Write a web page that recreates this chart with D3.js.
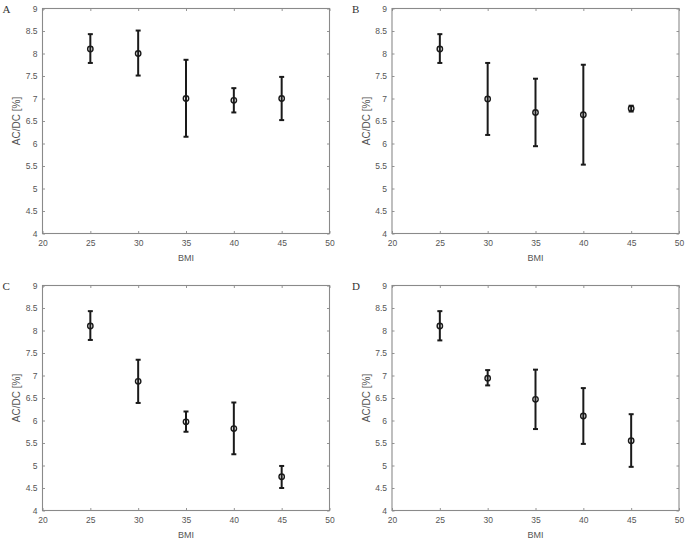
<!DOCTYPE html>
<html>
<head>
<meta charset="utf-8">
<script src="https://cdn.jsdelivr.net/npm/d3@7"></script>
<style>
    body { margin: 0; background: #ffffff; }
    svg { display: block; }
</style>
</head>
<body>
<svg id="chart" width="685" height="540"></svg>
<script>
// BMI groups shared by every panel
const bmi = [25, 30, 35, 40, 45];

const xTicks = [20, 25, 30, 35, 40, 45, 50];
const yTicks = [4, 4.5, 5, 5.5, 6, 6.5, 7, 7.5, 8, 8.5, 9];

const panelNames = ['A', 'B', 'C', 'D'];

// mean AC/DC [%] per BMI group
const meanA = [8.10, 8.00, 7.00, 6.96, 7.00];
const meanB = [8.10, 6.99, 6.69, 6.64, 6.78];
const meanC = [8.10, 6.87, 5.97, 5.82, 4.75];
const meanD = [8.10, 6.94, 6.47, 6.10, 5.55];

// error bar ends
const lowA = [7.79, 7.51, 6.15, 6.69, 6.52];
const highA = [8.43, 8.51, 7.86, 7.23, 7.48];
const lowB = [7.79, 6.19, 5.94, 5.53, 6.71];
const highB = [8.43, 7.79, 7.44, 7.75, 6.84];
const lowC = [7.79, 6.39, 5.75, 5.25, 4.50];
const highC = [8.43, 7.35, 6.20, 6.40, 4.99];
const lowD = [7.78, 6.78, 5.81, 5.48, 4.97];
const highD = [8.43, 7.12, 7.13, 6.72, 6.14];

class ErrorPanel {
    constructor (svg, box) {
        this.svg = svg;
        this.box = box;
        this.x = d3.scaleLinear().domain([20, 50]).range([0, box.w]);
        this.y = d3.scaleLinear().domain([4, 9]).range([box.h, 0]);
        this.g = svg.append('g')
            .attr('transform', 'translate(' + box.x + ',' + box.y + ')');
    }
    drawAxes () {
        let g = this.g;
        let w = this.box.w;
        let h = this.box.h;
        let tl = 2.5;

        // bottom and left carry labels, ticks point inward
        let bottom = g.append('g')
            .attr('transform', 'translate(0,' + h + ')')
            .call(d3.axisBottom(this.x).tickValues(xTicks).tickSize(-tl).tickPadding(6).tickSizeOuter(0));
        let left = g.append('g')
            .call(d3.axisLeft(this.y).tickValues(yTicks).tickFormat(d3.format('')).tickSize(-tl).tickPadding(5).tickSizeOuter(0));
        let top = g.append('g')
            .call(d3.axisTop(this.x).tickValues(xTicks).tickSize(-tl).tickFormat('').tickSizeOuter(0));
        let right = g.append('g')
            .attr('transform', 'translate(' + w + ',0)')
            .call(d3.axisRight(this.y).tickValues(yTicks).tickSize(-tl).tickFormat('').tickSizeOuter(0));

        for (let a of [bottom, left, top, right]) {
            a.select('.domain').remove();
            a.selectAll('line').attr('stroke', '#7a7a7a').attr('stroke-width', 0.8);
            a.selectAll('text')
                .attr('fill', '#555555')
                .style('font-family', '"Liberation Sans", Arial, sans-serif')
                .style('font-size', '8.5px');
        }

        g.append('rect')
            .attr('x', 0).attr('y', 0)
            .attr('width', w).attr('height', h)
            .attr('fill', 'none')
            .attr('stroke', '#8a8a8a')
            .attr('stroke-width', 1.1);

        g.append('text')
            .attr('x', w / 2)
            .attr('y', h + 27)
            .attr('text-anchor', 'middle')
            .attr('fill', '#555555')
            .style('font-family', '"Liberation Sans", Arial, sans-serif')
            .style('font-size', '9px')
            .text('BMI');

        g.append('text')
            .attr('transform', 'translate(-22.5,' + (h / 2) + ') rotate(-90)')
            .attr('text-anchor', 'middle')
            .attr('fill', '#555555')
            .style('font-family', '"Liberation Sans", Arial, sans-serif')
            .style('font-size', '10px')
            .text('AC/DC [%]');
    }
    drawData (mean, low, high) {
        let x = this.x;
        let y = this.y;
        let data = bmi.map((b, i) => {
            return { b: b, m: mean[i], lo: low[i], hi: high[i] };
        });
        let cap = 2.5;

        let bars = this.g.selectAll('g.err')
            .data(data)
            .enter()
            .append('g')
            .attr('class', 'err');

        bars.append('line')
            .attr('x1', (d) => { return x(d.b); })
            .attr('x2', (d) => { return x(d.b); })
            .attr('y1', (d) => { return y(d.lo); })
            .attr('y2', (d) => { return y(d.hi); })
            .attr('stroke', '#1a1a1a')
            .attr('stroke-width', 2);

        for (let key of ['lo', 'hi'])
            bars.append('line')
                .attr('x1', (d) => { return x(d.b) - cap; })
                .attr('x2', (d) => { return x(d.b) + cap; })
                .attr('y1', (d) => { return y(d[key]); })
                .attr('y2', (d) => { return y(d[key]); })
                .attr('stroke', '#1a1a1a')
                .attr('stroke-width', 2);

        bars.append('circle')
            .attr('cx', (d) => { return x(d.b); })
            .attr('cy', (d) => { return y(d.m); })
            .attr('r', 2.7)
            .attr('fill', 'none')
            .attr('stroke', '#1a1a1a')
            .attr('stroke-width', 1.4);
    }
    drawName (name) {
        this.svg.append('text')
            .attr('x', this.box.x - 40)
            .attr('y', this.box.y + 4)
            .attr('fill', '#333333')
            .style('font-family', '"Liberation Serif", "Times New Roman", serif')
            .style('font-size', '11px')
            .text(name);
    }
}

let svg = d3.select('#chart');

let boxes = [
    { x: 42.5, y: 8.5, w: 287, h: 225 },
    { x: 392, y: 8.5, w: 287, h: 225 },
    { x: 42.5, y: 285.5, w: 287, h: 225 },
    { x: 392, y: 285.5, w: 287, h: 225 },
];
let series = [
    [meanA, lowA, highA],
    [meanB, lowB, highB],
    [meanC, lowC, highC],
    [meanD, lowD, highD],
];

boxes.forEach((box, i) => {
    let p = new ErrorPanel(svg, box);
    p.drawAxes();
    p.drawData(series[i][0], series[i][1], series[i][2]);
    p.drawName(panelNames[i]);
});
</script>
</body>
</html>
